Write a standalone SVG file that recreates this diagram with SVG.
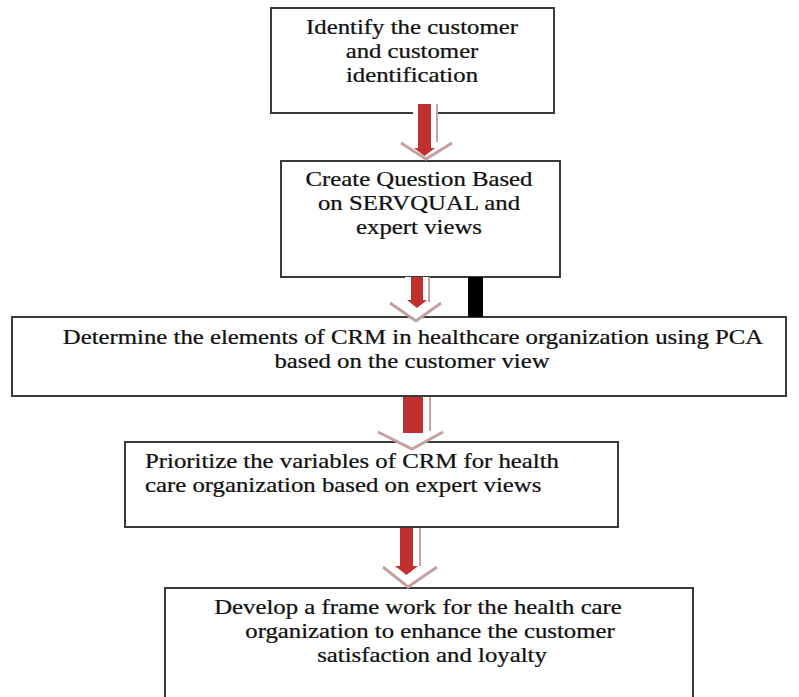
<svg xmlns="http://www.w3.org/2000/svg" width="799" height="697" viewBox="0 0 799 697">
<style>
.box{fill:#fff;stroke:#3a3a3a;stroke-width:2}
.t{font-family:"Liberation Serif","Times New Roman",serif;font-size:21px;fill:#111;stroke:#111;stroke-width:0.25}
.c{text-anchor:middle}
.red{fill:#c0302e}
.sh{stroke:#c9a3a3;stroke-width:2;fill:none}
.v{stroke:#c4a0a0;stroke-width:3;fill:none;stroke-linejoin:miter}
</style>
<rect width="799" height="697" fill="#fff"/>
<g id="n1">
<rect class="box" x="271" y="8" width="283" height="105"/>
<text class="t c" transform="translate(412,34) scale(1.18,1)">Identify the customer</text>
<text class="t c" transform="translate(412,58) scale(1.18,1)">and customer</text>
<text class="t c" transform="translate(412,82) scale(1.18,1)">identification</text>
</g>
<g id="n2">
<rect class="box" x="281" y="161" width="279" height="116"/>
<text class="t c" transform="translate(419,186) scale(1.18,1)">Create Question Based</text>
<text class="t c" transform="translate(419,210) scale(1.18,1)">on SERVQUAL and</text>
<text class="t c" transform="translate(419,234) scale(1.18,1)">expert views</text>
</g>
<g id="n3">
<rect class="box" x="12" y="317" width="774" height="79"/>
<text class="t c" transform="translate(413,344) scale(1.18,1)">Determine the elements of CRM in healthcare organization using PCA</text>
<text class="t c" transform="translate(412,368) scale(1.18,1)">based on the customer view</text>
</g>
<g id="n4">
<rect class="box" x="125" y="442" width="493" height="85"/>
<text class="t" transform="translate(145,468) scale(1.18,1)">Prioritize the variables of CRM for health</text>
<text class="t" transform="translate(145,492) scale(1.18,1)">care organization based on expert views</text>
</g>
<g id="n5">
<rect class="box" x="165" y="588" width="528" height="115"/>
<text class="t c" transform="translate(418,614) scale(1.18,1)">Develop a frame work for the health care</text>
<text class="t c" transform="translate(430,638) scale(1.18,1)">organization to enhance the customer</text>
<text class="t c" transform="translate(432,662) scale(1.18,1)">satisfaction and loyalty</text>
</g>
<g id="connectors">
<g id="a1">
<polygon points="413,104 438,104 438,143 452,143 426,160 401,143 413,143" fill="#fff"/>
<line class="sh" x1="437" y1="104" x2="437" y2="142"/>
<polyline class="v" points="401,143 426,159 452,143"/>
<rect class="red" x="418" y="104" width="13" height="44"/>
<polygon class="red" points="414,148 435,148 424.5,156"/>
</g>
<g id="a2">
<polygon points="405,277 430,277 430,303 441,303 417,322 390,303 405,303" fill="#fff"/>
<line class="sh" x1="429" y1="277" x2="429" y2="302"/>
<polyline class="v" points="390,303 416,321 441,303"/>
<rect class="red" x="411" y="277" width="12" height="23"/>
<polygon class="red" points="407,300 427,300 417,308"/>
<rect x="468" y="277" width="15" height="40" fill="#000"/>
</g>
<g id="a3">
<polygon points="398,397 430,397 430,432 443,432 413,449 378,432 398,432" fill="#fff"/>
<line class="sh" x1="430" y1="397" x2="430" y2="431"/>
<polyline class="v" points="378,432 412,449 443,432"/>
<rect class="red" x="403" y="397" width="20" height="36"/>
</g>
<g id="a4">
<polygon points="396,528 420,528 420,567 437,567 409,588 383,567 396,567" fill="#fff"/>
<line class="sh" x1="420" y1="528" x2="420" y2="566"/>
<polyline class="v" points="383,567 408,587 437,567"/>
<rect class="red" x="400" y="528" width="13" height="38"/>
<polygon class="red" points="395,566 418,566 406.5,575"/>
</g>
</g>
</svg>
